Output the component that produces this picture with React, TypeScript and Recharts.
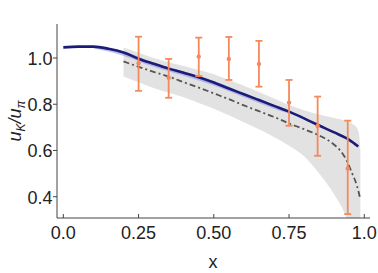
import { ComposedChart, Line, Area, Scatter, ErrorBar, XAxis, YAxis } from "recharts";

// solid blue curve
const blueX = [0, 0.05, 0.1, 0.15, 0.2, 0.25, 0.3, 0.35, 0.4, 0.45, 0.5, 0.55, 0.6, 0.65, 0.7, 0.75, 0.8, 0.85, 0.9, 0.95, 0.98];
const blueY = [1.046, 1.049, 1.049, 1.04, 1.024, 0.997, 0.975, 0.954, 0.936, 0.917, 0.894, 0.868, 0.843, 0.818, 0.793, 0.768, 0.739, 0.708, 0.678, 0.646, 0.617];

// thin light-blue band around it
const blueBandX = [0.1, 0.2, 0.3, 0.4, 0.5, 0.6, 0.7, 0.75];
const blueBandLo = [1.042, 1.01, 0.962, 0.923, 0.881, 0.83, 0.781, 0.76];
const blueBandHi = [1.052, 1.029, 0.979, 0.941, 0.9, 0.848, 0.797, 0.771];

// dash-dot gray curve
const dashX = [0.2, 0.25, 0.3, 0.35, 0.4, 0.45, 0.5, 0.55, 0.6, 0.65, 0.7, 0.75, 0.8, 0.85, 0.9, 0.92, 0.94, 0.96, 0.975, 0.985];
const dashY = [0.985, 0.962, 0.94, 0.92, 0.895, 0.872, 0.847, 0.822, 0.795, 0.77, 0.745, 0.717, 0.692, 0.665, 0.625, 0.6, 0.56, 0.5, 0.45, 0.4];

// gray uncertainty band
const bandX = [0.2, 0.25, 0.3, 0.35, 0.4, 0.45, 0.5, 0.55, 0.6, 0.65, 0.7, 0.75, 0.8, 0.85, 0.9, 0.94, 0.96, 0.975, 0.982, 0.987];
const bandHi = [1.045, 1.023, 1.0, 0.982, 0.965, 0.948, 0.93, 0.905, 0.88, 0.853, 0.825, 0.797, 0.774, 0.756, 0.741, 0.728, 0.716, 0.698, 0.675, 0.6];
const bandLo = [0.92, 0.895, 0.87, 0.85, 0.83, 0.805, 0.78, 0.752, 0.722, 0.692, 0.658, 0.62, 0.575, 0.5, 0.41, 0.31, 0.22, 0.15, 0.12, 0.1];

// data points with error bars
const ptX = [0.25, 0.35, 0.45, 0.55, 0.65, 0.75, 0.845, 0.945];
const ptY = [0.977, 0.915, 1.006, 0.996, 0.974, 0.807, 0.706, 0.522];
const ptTop = [1.092, 0.996, 1.088, 1.091, 1.074, 0.905, 0.833, 0.729];
const ptBottom = [0.858, 0.828, 0.922, 0.905, 0.876, 0.707, 0.577, 0.325];

const xTicks = [0, 0.25, 0.5, 0.75, 1];
const xTickLabels = ["0.0", "0.25", "0.50", "0.75", "1.0"];
const yTicks = [0.4, 0.6, 0.8, 1.0];
const yTickLabels = ["0.4", "0.6", "0.8", "1.0"];

const blueData = blueX.map((x, i) => ({ x, y: blueY[i] }));
const blueBandData = blueBandX.map((x, i) => ({ x, range: [blueBandLo[i], blueBandHi[i]] }));
const dashData = dashX.map((x, i) => ({ x, y: dashY[i] }));
const bandData = bandX.map((x, i) => ({ x, range: [bandLo[i], bandHi[i]] }));
const pointData = ptX.map((x, i) => ({ x, y: ptY[i], err: [ptY[i] - ptBottom[i], ptTop[i] - ptY[i]] }));

const xDomain = [-0.021, 1.019];
const yDomain = [0.308, 1.147];
const font = "'Liberation Sans', Arial, sans-serif";
const axisDark = "#444";
const axisLight = "#777";
const orange = "#f5895c";

const BottomTick = (props: any) => {
  const { x, y, payload } = props;
  const label = xTickLabels[xTicks.indexOf(payload.value)];
  return (
    <g>
      <line x1={x} y1={y} x2={x} y2={y - 4} stroke={axisDark} />
      <text x={x} y={y + 21} textAnchor="middle" fontSize={18} fontFamily={font} fill="#222">
        {label}
      </text>
    </g>
  );
};

const TopTick = (props: any) => {
  const { x, y } = props;
  return <line x1={x} y1={y} x2={x} y2={y + 4} stroke={axisDark} />;
};

const LeftTick = (props: any) => {
  const { x, y, payload } = props;
  const label = yTickLabels[yTicks.indexOf(payload.value)];
  return (
    <g>
      <line x1={x - 4} y1={y} x2={x} y2={y} stroke={axisDark} />
      <text x={x - 4.5} y={y + 7} textAnchor="end" fontSize={18} fontFamily={font} fill="#222">
        {label}
      </text>
    </g>
  );
};

const RightTick = (props: any) => {
  const { x, y } = props;
  return <line x1={x - 4} y1={y} x2={x} y2={y} stroke={axisDark} />;
};

const Dot = (props: any) => <circle cx={props.cx} cy={props.cy} r={2.2} fill={orange} />;

export default function App() {
  return (
    <div style={{ position: "absolute", left: 0, top: 0, background: "#fff" }}>
      <ComposedChart width={378} height={273} margin={{ top: 24, right: 8, bottom: 0, left: 0 }}>
        <XAxis
          dataKey="x"
          type="number"
          domain={xDomain}
          allowDataOverflow
          ticks={xTicks}
          interval={0}
          height={55}
          tickSize={0}
          tickMargin={0}
          tickLine={false}
          tick={<BottomTick />}
          axisLine={{ stroke: axisDark }}
        />
        <XAxis
          xAxisId="top"
          orientation="top"
          dataKey="x"
          type="number"
          domain={xDomain}
          allowDataOverflow
          ticks={xTicks}
          interval={0}
          height={0}
          tickSize={0}
          tickMargin={0}
          tickLine={false}
          tick={<TopTick />}
          axisLine={{ stroke: axisLight }}
        />
        <YAxis
          type="number"
          domain={yDomain}
          allowDataOverflow
          ticks={yTicks}
          interval={0}
          width={57}
          tickSize={0}
          tickMargin={0}
          tickLine={false}
          tick={<LeftTick />}
          axisLine={{ stroke: axisDark }}
        />
        <YAxis
          yAxisId="right"
          orientation="right"
          type="number"
          domain={yDomain}
          allowDataOverflow
          ticks={yTicks}
          interval={0}
          width={0}
          tickSize={0}
          tickMargin={0}
          tickLine={false}
          tick={<RightTick />}
          axisLine={{ stroke: axisLight }}
        />
        <Area
          data={bandData}
          dataKey="range"
          type="monotone"
          stroke="none"
          fill="#e2e2e2"
          fillOpacity={1}
          isAnimationActive={false}
        />
        <Area
          data={blueBandData}
          dataKey="range"
          type="monotone"
          stroke="none"
          fill="#8c8ce8"
          fillOpacity={0.55}
          isAnimationActive={false}
        />
        <Line
          data={dashData}
          dataKey="y"
          type="monotone"
          stroke="#555"
          strokeWidth={1.8}
          strokeDasharray="6 3 2 3"
          dot={false}
          isAnimationActive={false}
        />
        <Line
          data={blueData}
          dataKey="y"
          type="monotone"
          stroke="#1b1b78"
          strokeWidth={2.6}
          dot={false}
          isAnimationActive={false}
        />
        <Scatter data={pointData} dataKey="y" shape={<Dot />} isAnimationActive={false}>
          <ErrorBar dataKey="err" direction="y" width={3.5} stroke={orange} strokeWidth={1.8} />
        </Scatter>
        <text x={213} y={268} textAnchor="middle" fontSize={18} fontFamily={font} fill="#222">
          x
        </text>
        <text
          x={21}
          y={121}
          transform="rotate(-90 21 121)"
          textAnchor="middle"
          fontSize={18}
          fontFamily={font}
          fill="#222"
          fontStyle="italic"
        >
          u<tspan fontSize={12} dy={4}>K</tspan>
          <tspan dy={-4}>/u</tspan>
          <tspan fontSize={12} dy={4}>π</tspan>
        </text>
      </ComposedChart>
    </div>
  );
}
